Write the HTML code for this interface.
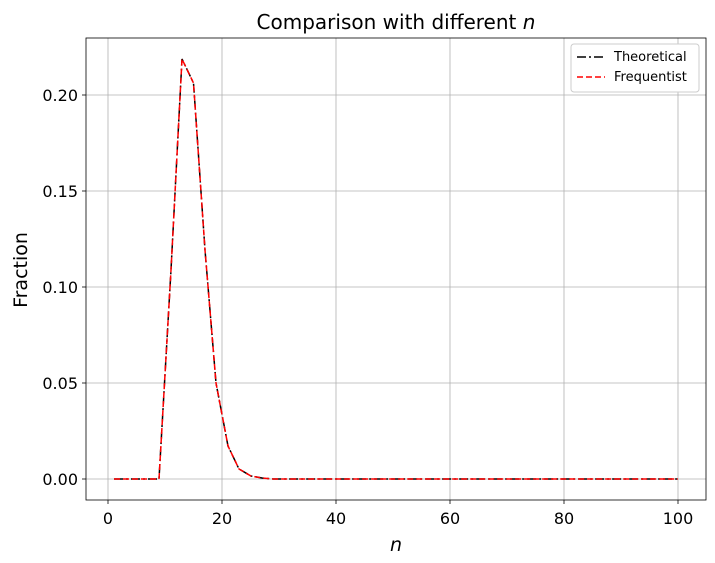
<!DOCTYPE html>
<html><head><style>body{margin:0;background:#fff}svg{display:block}text{font-family:"DejaVu Sans","Liberation Sans",sans-serif}</style></head>
<body>
<svg width="715" height="563" xmlns="http://www.w3.org/2000/svg">
<rect width="715" height="563" fill="#fff"/>
<g stroke="#b0b0b0" stroke-width="0.8">
<line x1="108" y1="38" x2="108" y2="500"/><line x1="222" y1="38" x2="222" y2="500"/><line x1="336" y1="38" x2="336" y2="500"/><line x1="450" y1="38" x2="450" y2="500"/><line x1="564" y1="38" x2="564" y2="500"/><line x1="678" y1="38" x2="678" y2="500"/>
<line x1="86" y1="479" x2="706" y2="479"/><line x1="86" y1="383" x2="706" y2="383"/><line x1="86" y1="287" x2="706" y2="287"/><line x1="86" y1="191" x2="706" y2="191"/><line x1="86" y1="95" x2="706" y2="95"/>
</g>
<g fill="none" stroke-width="1.5">
<polyline stroke="#000" stroke-dasharray="9,3,2,3" points="114,479 125,479 136,479 148,479 159,479 171,270 182,59 193.5,83 205,250 216,383 228,446 239,469 251,476 262,478 273,479 678,479"/>
<polyline stroke="#f00" stroke-dasharray="6,3" points="114,479 125,479 136,479 148,479 159,479 171,270 182,59 193.5,83 205,250 216,383 228,446 239,469 251,476 262,478 273,479 678,479"/>
</g>
<rect x="86" y="38" width="620" height="462" fill="none" stroke="#000" stroke-width="0.8"/>
<g stroke="#000" stroke-width="0.8">
<line x1="108" y1="500" x2="108" y2="504"/><line x1="222" y1="500" x2="222" y2="504"/><line x1="336" y1="500" x2="336" y2="504"/><line x1="450" y1="500" x2="450" y2="504"/><line x1="564" y1="500" x2="564" y2="504"/><line x1="678" y1="500" x2="678" y2="504"/>
<line x1="82" y1="479" x2="86" y2="479"/><line x1="82" y1="383" x2="86" y2="383"/><line x1="82" y1="287" x2="86" y2="287"/><line x1="82" y1="191" x2="86" y2="191"/><line x1="82" y1="95" x2="86" y2="95"/>
</g>
<g font-size="16" fill="#000" text-anchor="middle">
<text x="108" y="524">0</text><text x="222" y="524">20</text><text x="336" y="524">40</text><text x="450" y="524">60</text><text x="564" y="524">80</text><text x="678" y="524">100</text>
</g>
<g font-size="16" fill="#000" text-anchor="end">
<text x="78" y="485">0.00</text><text x="78" y="389">0.05</text><text x="78" y="293">0.10</text><text x="78" y="197">0.15</text><text x="78" y="101">0.20</text>
</g>
<text x="396" y="551" font-size="19" font-style="italic" text-anchor="middle">n</text>
<text x="27" y="270" font-size="19" text-anchor="middle" transform="rotate(-90 27 270)">Fraction</text>
<text x="396" y="29" font-size="20" text-anchor="middle">Comparison with different <tspan font-style="italic">n</tspan></text>
<rect x="571" y="44" width="128" height="48" rx="3" fill="#fff" stroke="#ccc"/>
<line x1="577" y1="57" x2="605" y2="57" stroke="#000" stroke-width="1.5" stroke-dasharray="9,3,2,3"/>
<line x1="577" y1="77" x2="605" y2="77" stroke="#f00" stroke-width="1.5" stroke-dasharray="6,3"/>
<text x="614" y="61" font-size="13">Theoretical</text>
<text x="614" y="81" font-size="13">Frequentist</text>
</svg>
</body></html>
